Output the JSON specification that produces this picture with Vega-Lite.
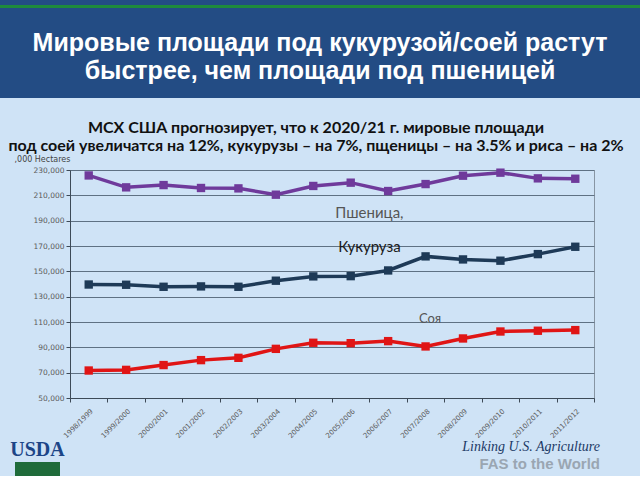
{
  "$schema": "https://vega.github.io/schema/vega-lite/v6.json",
  "background": "#CFE3F6",
  "padding": 0,
  "spacing": 0,
  "config": {
    "view": {"stroke": null},
    "concat": {"spacing": 0}
  },
  "datasets": {
    "series": [
      {"period": "1998/1999", "crop": "Пшеница", "value": 225700},
      {"period": "1999/2000", "crop": "Пшеница", "value": 216300},
      {"period": "2000/2001", "crop": "Пшеница", "value": 218100},
      {"period": "2001/2002", "crop": "Пшеница", "value": 215800},
      {"period": "2002/2003", "crop": "Пшеница", "value": 215500},
      {"period": "2003/2004", "crop": "Пшеница", "value": 210500},
      {"period": "2004/2005", "crop": "Пшеница", "value": 217400},
      {"period": "2005/2006", "crop": "Пшеница", "value": 220000},
      {"period": "2006/2007", "crop": "Пшеница", "value": 213400},
      {"period": "2007/2008", "crop": "Пшеница", "value": 218900},
      {"period": "2008/2009", "crop": "Пшеница", "value": 225500},
      {"period": "2009/2010", "crop": "Пшеница", "value": 227900},
      {"period": "2010/2011", "crop": "Пшеница", "value": 223400},
      {"period": "2011/2012", "crop": "Пшеница", "value": 223100},
      {"period": "1998/1999", "crop": "Кукуруза", "value": 139600},
      {"period": "1999/2000", "crop": "Кукуруза", "value": 139400},
      {"period": "2000/2001", "crop": "Кукуруза", "value": 137800},
      {"period": "2001/2002", "crop": "Кукуруза", "value": 138100},
      {"period": "2002/2003", "crop": "Кукуруза", "value": 137800},
      {"period": "2003/2004", "crop": "Кукуруза", "value": 142600},
      {"period": "2004/2005", "crop": "Кукуруза", "value": 146000},
      {"period": "2005/2006", "crop": "Кукуруза", "value": 146200},
      {"period": "2006/2007", "crop": "Кукуруза", "value": 150700},
      {"period": "2007/2008", "crop": "Кукуруза", "value": 161800},
      {"period": "2008/2009", "crop": "Кукуруза", "value": 159400},
      {"period": "2009/2010", "crop": "Кукуруза", "value": 158400},
      {"period": "2010/2011", "crop": "Кукуруза", "value": 163600},
      {"period": "2011/2012", "crop": "Кукуруза", "value": 169400},
      {"period": "1998/1999", "crop": "Соя", "value": 71700},
      {"period": "1999/2000", "crop": "Соя", "value": 72200},
      {"period": "2000/2001", "crop": "Соя", "value": 76000},
      {"period": "2001/2002", "crop": "Соя", "value": 79900},
      {"period": "2002/2003", "crop": "Соя", "value": 81700},
      {"period": "2003/2004", "crop": "Соя", "value": 88800},
      {"period": "2004/2005", "crop": "Соя", "value": 93600},
      {"period": "2005/2006", "crop": "Соя", "value": 93300},
      {"period": "2006/2007", "crop": "Соя", "value": 94900},
      {"period": "2007/2008", "crop": "Соя", "value": 90700},
      {"period": "2008/2009", "crop": "Соя", "value": 97000},
      {"period": "2009/2010", "crop": "Соя", "value": 102500},
      {"period": "2010/2011", "crop": "Соя", "value": 103100},
      {"period": "2011/2012", "crop": "Соя", "value": 103600}
    ],
    "labels": [
      {"label": "Пшеница,", "period": "2006/2007", "value": 196300},
      {"label": "Кукуруза", "period": "2006/2007", "value": 169400},
      {"label": "Соя", "period": "2007/2008", "value": 112500}
    ]
  },
  "vconcat": [
    {
      "width": 640, "height": 5,
      "view": {"fill": "#234C84", "stroke": null},
      "data": {"values": []},
      "mark": "point"
    },
    {
      "width": 640, "height": 3,
      "view": {"fill": "#1E8A3C", "stroke": null},
      "data": {"values": []},
      "mark": "point"
    },
    {
      "width": 640, "height": 90,
      "view": {"fill": "#234C84", "stroke": null},
      "data": {"values": [
        {"line": 1, "text": "Мировые площади под кукурузой/соей растут"},
        {"line": 2, "text": "быстрее, чем площади под пшеницей"}
      ]},
      "mark": {"type": "text", "color": "#FFFFFF", "font": "Liberation Sans", "fontWeight": "bold", "fontSize": 25, "baseline": "middle"},
      "encoding": {
        "y": {"field": "line", "type": "ordinal", "axis": null, "scale": {"range": [35, 63], "padding": 0}},
        "text": {"field": "text"}
      }
    },
    {
      "width": 640, "height": 56,
      "data": {"values": [
        {"line": 1, "text": "МСХ США прогнозирует, что к 2020/21 г. мировые площади"},
        {"line": 2, "text": "под соей увеличатся на 12%, кукурузы – на 7%, пщеницы – на 3.5% и риса – на 2%"}
      ]},
      "mark": {"type": "text", "color": "#111111", "font": "Lato", "fontWeight": "bold", "fontSize": 16, "baseline": "middle", "dx": -4},
      "encoding": {
        "y": {"field": "line", "type": "ordinal", "axis": null, "scale": {"range": [30, 48], "padding": 0}},
        "text": {"field": "text"}
      }
    },
    {
      "hconcat": [
        {
          "width": 1, "height": 1,
          "data": {"values": []},
          "mark": "point"
        },
        {
          "width": 524, "height": 228,
          "view": {"stroke": "#8795A3", "strokeWidth": 1},
          "encoding": {
            "y": {"field": "value", "type": "quantitative",
                  "scale": {"domain": [50000, 230000], "nice": false, "zero": false},
                  "axis": {"values": [50000, 70000, 90000, 110000, 130000, 150000, 170000, 190000, 210000, 230000],
                           "tickCount": 10,
                           "format": ",d", "grid": true, "gridColor": "#5F7183", "gridWidth": 1.2, "gridOpacity": 1,
                           "domainColor": "#3D4A57", "tickColor": "#3D4A57", "tickSize": 4, "labelOverlap": false,
                           "labelFont": "DejaVu Sans", "labelFontSize": 7.5, "labelColor": "#5A5A5A", "labelPadding": 2,
                           "title": ",000 Hectares", "titleAngle": 0, "titleX": -56, "titleY": -11, "titleAlign": "left", "titleBaseline": "middle",
                           "titleFont": "DejaVu Sans", "titleFontSize": 8, "titleFontWeight": "normal", "titleColor": "#444444",
                           "minExtent": 68, "maxExtent": 200}}
          },
          "layer": [
            {
              "data": {"name": "series"},
              "mark": {"type": "line", "strokeWidth": 3.5, "point": {"shape": "square", "size": 70, "filled": true, "opacity": 1}},
              "encoding": {
                "x": {"field": "period", "type": "ordinal", "sort": null,
                      "scale": {"type": "band", "paddingInner": 0, "paddingOuter": 0},
                      "axis": {"title": null, "labelAngle": -45, "labelFont": "DejaVu Sans", "labelFontSize": 7, "labelColor": "#5A5A5A",
                               "ticks": true, "tickBand": "extent", "tickSize": 4, "tickColor": "#3D4A57", "grid": false,
                               "domainColor": "#3D4A57", "labelPadding": 5, "labelOverlap": false, "maxExtent": 34}},
                "color": {"field": "crop", "type": "nominal", "legend": null,
                          "scale": {"domain": ["Пшеница", "Кукуруза", "Соя"], "range": ["#6F3A9B", "#1E3A57", "#E01515"]}}
              }
            },
            {
              "data": {"name": "labels"},
              "transform": [{"filter": "datum.label === 'Пшеница,'"}],
              "mark": {"type": "text", "font": "Lato", "fontSize": 15, "color": "#555555", "baseline": "middle"},
              "encoding": {
                "x": {"field": "period", "type": "ordinal", "bandPosition": 0},
                "text": {"field": "label"}
              }
            },
            {
              "data": {"name": "labels"},
              "transform": [{"filter": "datum.label === 'Кукуруза'"}],
              "mark": {"type": "text", "font": "Lato", "fontSize": 15, "color": "#1A1A1A", "baseline": "middle"},
              "encoding": {
                "x": {"field": "period", "type": "ordinal", "bandPosition": 0},
                "text": {"field": "label"}
              }
            },
            {
              "data": {"name": "labels"},
              "transform": [{"filter": "datum.label === 'Соя'"}],
              "mark": {"type": "text", "font": "Lato", "fontSize": 13, "color": "#555555", "baseline": "middle"},
              "encoding": {
                "x": {"field": "period", "type": "ordinal", "bandPosition": 0.62},
                "text": {"field": "label"}
              }
            }
          ]
        }
      ]
    },
    {
      "hconcat": [
        {
          "width": 10, "height": 14,
          "data": {"values": []},
          "mark": "point"
        },
        {
          "width": 45, "height": 14,
          "view": {"fill": "#1F6B3A", "stroke": null},
          "data": {"values": []},
          "mark": "point",
          "title": {"text": "USDA", "anchor": "middle", "font": "Liberation Serif", "fontSize": 20, "fontWeight": "bold", "color": "#1C4587", "offset": 2}
        },
        {
          "width": 535, "height": 14,
          "data": {"values": []},
          "mark": "point",
          "title": {"text": "Linking U.S. Agriculture", "subtitle": "FAS  to the World", "anchor": "end", "offset": 0, "dy": 10,
                    "font": "Liberation Serif", "fontStyle": "italic", "fontWeight": "normal", "fontSize": 14, "color": "#1C3A66",
                    "subtitleFont": "Liberation Sans", "subtitleFontSize": 15, "subtitleFontWeight": "bold", "subtitleColor": "#9AA6B2"}
        }
      ]
    }
  ]
}
